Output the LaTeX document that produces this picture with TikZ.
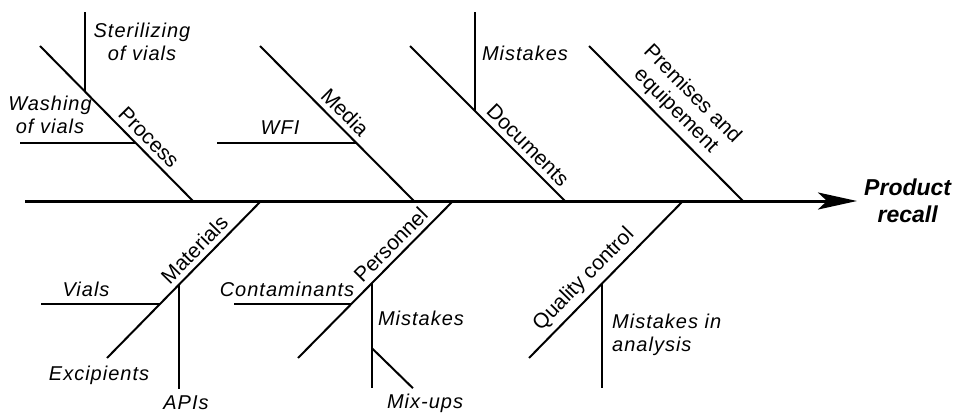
\documentclass[tikz,border=0pt]{standalone}
\usepackage{fontspec}
\setmainfont{Liberation Sans}
\newfontfamily\causefont{Liberation Sans}[LetterSpace=5]
\usetikzlibrary{arrows.meta,positioning}

\begin{document}
\begin{tikzpicture}[x=1pt,y=-1pt,
  spine/.style={line width=3pt,-{Stealth[length=39pt,width=17pt,inset=9pt]}},
  bone/.style={line width=2pt},
  twig/.style={line width=2pt},
  cause/.style={font=\causefont\fontsize{20}{23}\selectfont\itshape,align=center,inner sep=0pt},
  group/.style={font=\fontsize{21}{23}\selectfont,align=center,sloped,above,inner sep=5pt},
  effect/.style={font=\fontsize{23}{27}\selectfont\bfseries\itshape,align=center,inner sep=0pt}
]
\useasboundingbox (0,0) rectangle (957,414);

% spine and effect
\coordinate (tail) at (25,201);
\coordinate (head) at (857,201);
\draw[spine] (tail) -- (head);
\node[effect,right=7pt of head] (recall) {Product\\recall};

% upper bones
\draw[bone] (40,46) -- (193,201)
  node[group,pos=.65] (process) {Process}
  coordinate[pos=.294] (procSter)
  coordinate[pos=.626] (procWash);
\draw[twig] (procSter) -- ++(0,-80);
\draw[twig] (procWash) -- ++(-116,0);
\node[cause] (sterilizing) at (142,42) {Sterilizing\\of vials};
\node[cause] (washing) at (50,115) {Washing\\of vials};

\draw[bone] (260,46) -- (414,201)
  node[group,pos=.49] (media) {Media}
  coordinate[pos=.626] (mediaWfi);
\draw[twig] (mediaWfi) -- ++(-139,0);
\node[cause] (wfi) at (280,128) {WFI};

\draw[bone] (410,46) -- (565,201)
  node[group,pos=.70] (documents) {Documents}
  coordinate[pos=.419] (docMist);
\draw[twig] (docMist) -- ++(0,-99);
\node[cause] (docmistakes) at (525,53) {Mistakes};

\draw[bone] (589,46) -- (743,201)
  node[group,pos=.49] (premises) {Premises and\\equipement};

% lower bones
\draw[bone] (107,358) -- (261,201)
  node[group,pos=.63] (materials) {Materials}
  coordinate[pos=.344] (matVials)
  coordinate[pos=.468] (matApis);
\draw[twig] (matVials) -- ++(-119,0);
\draw[twig] (matApis) -- ++(0,104);
\node[cause] (vials) at (86,289) {Vials};
\node[cause] (excipients) at (99,375) {Excipients};
\node[cause] (apis) at (186,403) {APIs};

\draw[bone] (298,358) -- (453,201)
  node[group,pos=.66] (personnel) {Personnel}
  coordinate[pos=.344] (persCont)
  coordinate[pos=.477] (persMist);
\draw[twig] (persCont) -- ++(-117,0);
\draw[twig] (persMist) -- coordinate[pos=.62] (persFork) ++(0,105);
\draw[twig] (persFork) -- ++(41,40);
\node[cause] (contaminants) at (287,289) {Contaminants};
\node[cause] (persmistakes) at (421,318) {Mistakes};
\node[cause] (mixups) at (425,403) {Mix-ups};

\draw[bone] (529,358) -- (683,201)
  node[group,pos=.43] (quality) {Quality control}
  coordinate[pos=.474] (qcMist);
\draw[twig] (qcMist) -- ++(0,104);
\node[cause,align=left,anchor=west] (analysis) at (612,335) {Mistakes in\\analysis};
\end{tikzpicture}
\end{document}
